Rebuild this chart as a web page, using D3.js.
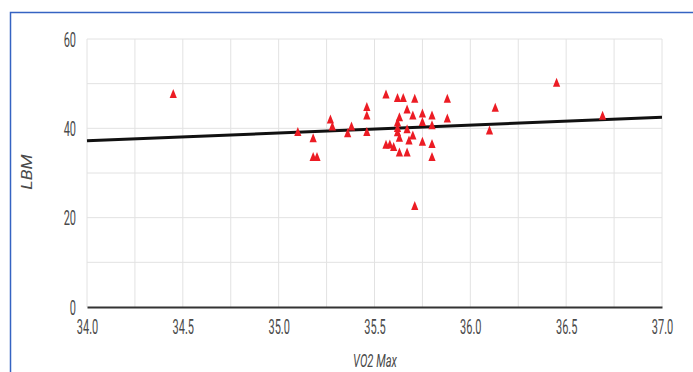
<!DOCTYPE html>
<html>
<head>
<meta charset="utf-8">
<script src="https://cdn.jsdelivr.net/npm/d3@7"></script>
<style>
  body { margin: 0; background: #fff; }
  svg { display: block; }
</style>
</head>
<body>
<div id="chart"></div>
<script>
'use strict';
// VO2 Max vs LBM
var vo2 = [34.45, 35.10, 35.18, 35.18, 35.20, 35.27, 35.28, 35.36, 35.38, 35.46,
           35.46, 35.46, 35.56, 35.62, 35.65, 35.71, 35.88, 35.67, 35.70, 35.75,
           35.80, 35.88, 35.63, 35.62, 35.75, 35.80, 35.62, 35.67, 35.62, 35.63,
           35.70, 35.68, 35.75, 35.80, 35.56, 35.58, 35.60, 35.63, 35.67, 35.80,
           35.71, 36.13, 36.10, 36.45, 36.69];
var lbm = [47.7, 39.2, 37.8, 33.6, 33.6, 42.0, 40.4, 38.9, 40.4, 44.8,
           42.9, 39.2, 47.6, 46.8, 46.8, 46.6, 46.6, 44.2, 42.9, 43.3,
           42.9, 42.2, 42.5, 41.3, 41.4, 40.7, 40.1, 39.8, 39.1, 37.9,
           38.4, 37.3, 37.0, 36.5, 36.3, 36.4, 35.8, 34.6, 34.6, 33.6,
           22.6, 44.6, 39.5, 50.2, 42.8];
var trendX = [34.0, 37.0];
var trendY = [37.2, 42.5];
var xTicks = [34.0, 34.5, 35.0, 35.5, 36.0, 36.5, 37.0];
var yTicks = [0, 20, 40, 60];

var width = 693, height = 372,
    plotLeft = 87, plotRight = 662, plotTop = 39, plotBottom = 307;

var svg = d3.select('#chart').append('svg')
    .attr('width', width)
    .attr('height', height);

svg.append('rect')
    .attr('x', 10.5).attr('y', 12.5)
    .attr('width', 700).attr('height', 400)
    .attr('fill', '#fff')
    .attr('stroke', '#3563c2')
    .attr('stroke-width', 1.5);

var x = d3.scaleLinear().domain([34, 37]).range([plotLeft, plotRight]);
var y = d3.scaleLinear().domain([0, 60]).range([plotBottom, plotTop]);

// gridlines
svg.append('g').selectAll('line')
    .data(d3.range(34, 37.001, 0.25))
    .join('line')
    .attr('x1', function (d) { return x(d); })
    .attr('x2', function (d) { return x(d); })
    .attr('y1', plotTop).attr('y2', plotBottom)
    .attr('stroke', '#e2e2e2');
svg.append('g').selectAll('line')
    .data(d3.range(10, 61, 10))
    .join('line')
    .attr('x1', plotLeft).attr('x2', plotRight)
    .attr('y1', function (d) { return y(d); })
    .attr('y2', function (d) { return y(d); })
    .attr('stroke', '#e2e2e2');

var xAxis = svg.append('g')
    .attr('transform', 'translate(0,' + plotBottom + ')')
    .call(d3.axisBottom(x).tickValues(xTicks).tickFormat(d3.format('.1f')).tickSize(0));
xAxis.select('.domain').attr('stroke', '#333').attr('stroke-width', 2);
xAxis.selectAll('text')
    .attr('y', 13)
    .attr('dy', '0.71em')
    .attr('transform', 'scale(0.55,1)')
    .attr('fill', '#4a4a4a')
    .style('font-family', 'Roboto')
    .style('font-size', '20px');

var yAxis = svg.append('g')
    .attr('transform', 'translate(' + plotLeft + ',0)')
    .call(d3.axisLeft(y).tickValues(yTicks).tickSize(0));
yAxis.select('.domain').remove();
yAxis.selectAll('text')
    .attr('x', -20)
    .attr('dy', '0.35em')
    .attr('transform', 'scale(0.55,1)')
    .attr('fill', '#4a4a4a')
    .style('font-family', 'Roboto')
    .style('font-size', '20px');

// trend line
svg.append('path')
    .datum(d3.zip(trendX, trendY))
    .attr('fill', 'none')
    .attr('stroke', '#111')
    .attr('stroke-width', 3)
    .attr('d', d3.line().x(function (d) { return x(d[0]); }).y(function (d) { return y(d[1]); }));

// points
svg.append('g').selectAll('path')
    .data(d3.zip(vo2, lbm))
    .join('path')
    .attr('transform', function (d) { return 'translate(' + x(d[0]) + ',' + y(d[1]) + ')'; })
    .attr('d', 'M0,-5L3.6,4L-3.6,4Z')
    .attr('fill', '#ec1c24');

// axis titles
svg.append('text')
    .attr('transform', 'translate(375,367) scale(0.62,1)')
    .attr('text-anchor', 'middle')
    .attr('fill', '#4a4a4a')
    .style('font-family', 'Roboto')
    .style('font-style', 'italic')
    .style('font-size', '18px')
    .text('VO2 Max');

svg.append('text')
    .attr('transform', 'translate(32,172) rotate(-90) scale(1,0.8)')
    .attr('text-anchor', 'middle')
    .attr('fill', '#4a4a4a')
    .style('font-family', 'Roboto')
    .style('font-style', 'italic')
    .style('font-size', '18px')
    .text('LBM');
</script>
</body>
</html>
